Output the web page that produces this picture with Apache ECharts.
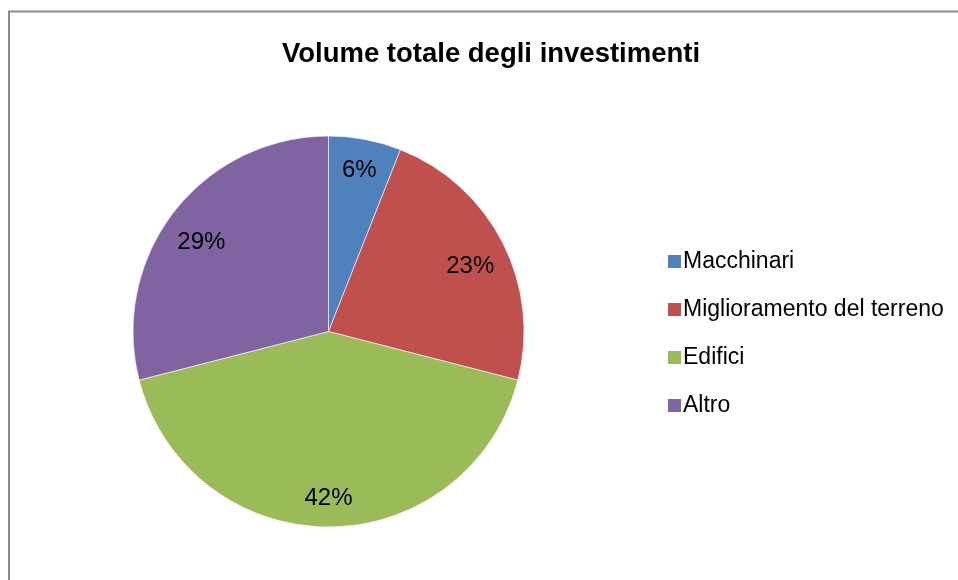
<!DOCTYPE html>
<html>
<head>
<meta charset="utf-8">
<script src="https://cdn.jsdelivr.net/npm/echarts@6/dist/echarts.min.js"></script>
<style>
  html, body { margin: 0; padding: 0; background: #fff; }
  #grid1 { width: 958px; height: 580px; }
</style>
</head>
<body>
<div id="grid1"></div>
<script>
  // dati
  var categories = ['Macchinari', 'Miglioramento del terreno', 'Edifici', 'Altro'];
  var values = [6, 23, 42, 29];
  var colors = ['#4F81BD', '#C0504D', '#9BBB59', '#8064A2'];

  var pieData = categories.map(function (name, i) {
    return { name: name, value: values[i], itemStyle: { color: colors[i] } };
  });

  // piccoli spostamenti delle etichette come nell'originale
  var labelNudge = [[0, 1], [-5, 10], [0, 2], [3, 12]];
  // serie trasparente solo per posizionare le etichette verso il bordo
  var labelData = categories.map(function (name, i) {
    return { name: name, value: values[i], label: { offset: labelNudge[i] } };
  });

  var myChart = echarts.init(document.getElementById('grid1'));
  myChart.setOption({
    animation: false,
    title: {
      text: 'Volume totale degli investimenti',
      left: 486,
      top: 35,
      textAlign: 'center',
      textStyle: {
        fontFamily: 'Liberation Sans, Arial, sans-serif',
        fontWeight: 'bold',
        fontSize: 27.5,
        color: '#000'
      }
    },
    graphic: [{
      type: 'rect',
      shape: { x: 9, y: 11.5, width: 1000, height: 1000 },
      style: { fill: 'none', stroke: '#8a8a8a', lineWidth: 2 },
      silent: true
    }],
    legend: {
      orient: 'vertical',
      left: 661,
      top: 245,
      itemWidth: 15,
      itemHeight: 15,
      itemGap: 25,
      icon: 'rect',
      data: categories,
      textStyle: {
        fontFamily: 'Liberation Sans, Arial, sans-serif',
        fontSize: 23,
        color: '#000',
        padding: [0, 0, 0, -4]
      }
    },
    series: [
      {
        name: 'Investimenti',
        type: 'pie',
        center: [328.5, 331.5],
        radius: [0, 195.5],
        startAngle: 90,
        clockwise: true,
        silent: true,
        label: { show: false },
        labelLine: { show: false },
        itemStyle: { borderColor: '#ffffff', borderWidth: 0.6 },
        data: pieData
      },
      {
        name: 'Etichette',
        type: 'pie',
        center: [328.5, 331.5],
        radius: [128, 195.5],
        startAngle: 90,
        clockwise: true,
        silent: true,
        itemStyle: { color: 'transparent' },
        labelLine: { show: false },
        label: {
          show: true,
          position: 'inside',
          formatter: '{c}%',
          fontFamily: 'Liberation Sans, Arial, sans-serif',
          fontSize: 24,
          color: '#000'
        },
        data: labelData
      }
    ]
  });
</script>
</body>
</html>
